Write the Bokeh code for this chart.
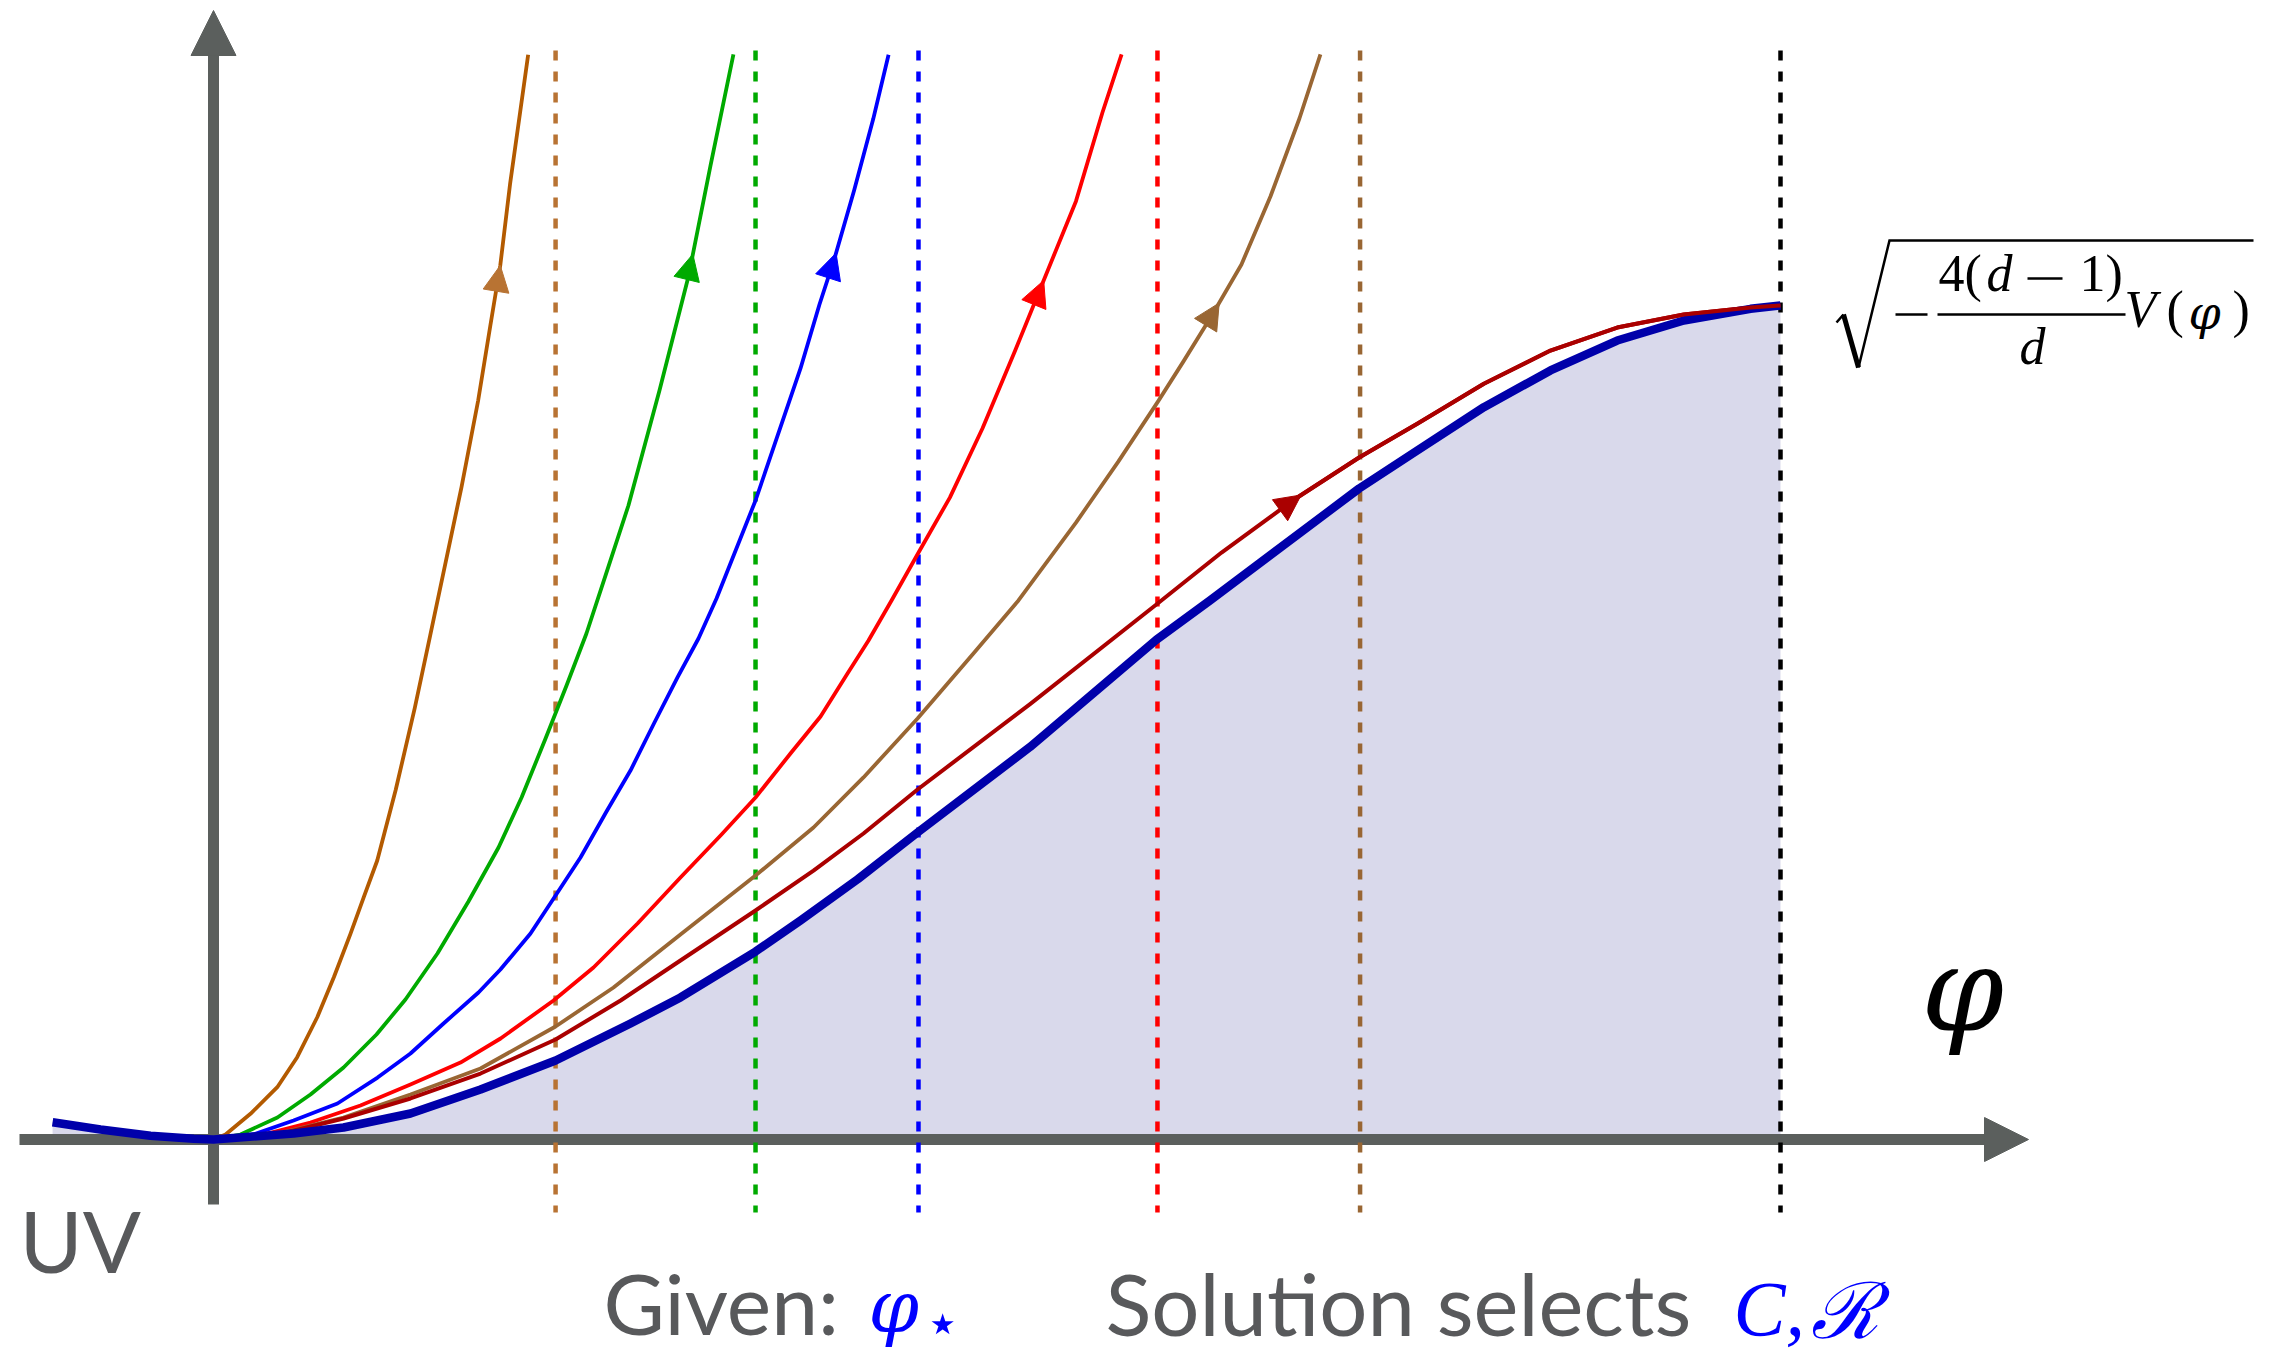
from bokeh.plotting import figure
from bokeh.models import Range1d, Arrow, NormalHead, Label
from bokeh.embed import file_html
from bokeh.resources import INLINE

# ---------------------------------------------------------------------------
# Data: field value phi is normalised so that the maximum of the potential
# bound sqrt(-4(d-1)/d V(phi)) sits at phi = 1 with height 1.
# ---------------------------------------------------------------------------

# potential bound (thick navy curve, shaded below)
pot_phi = [-0.1027, -0.0721, -0.0402, -0.0126, 0.0, 0.0511, 0.0830, 0.1257,
           0.1704, 0.2183, 0.2661, 0.2980, 0.3459, 0.3746, 0.4112, 0.4493,
           0.5211, 0.6017, 0.6359, 0.7311, 0.7682, 0.8107, 0.8532, 0.8958,
           0.9383, 0.9809, 1.0]
pot_val = [0.0207, 0.0120, 0.0045, 0.0008, 0.0, 0.0072, 0.0144, 0.0312,
           0.0600, 0.0947, 0.1391, 0.1703, 0.2254, 0.2626, 0.3122, 0.3681,
           0.4707, 0.5992, 0.6463, 0.7806, 0.8261, 0.8781, 0.9221, 0.9580,
           0.9820, 0.9960, 1.0]

# flow solutions leaving the UV fixed point
copper_phi = [0.0, 0.0077, 0.0236, 0.0407, 0.0534, 0.0662, 0.0768, 0.0874, 0.0959,
              0.1045, 0.1163, 0.1285, 0.1382, 0.1583, 0.1689, 0.1766, 0.1830,
              0.1893, 0.1957, 0.2008]
copper_val = [0.0, 0.0060, 0.0308, 0.0627, 0.0987, 0.1466, 0.1946, 0.2466, 0.2905,
              0.3345, 0.4193, 0.5179, 0.6035, 0.7825, 0.8861, 0.9752, 1.0480,
              1.1464, 1.2321, 1.3006]

green_phi = [0.0, 0.0172, 0.0408, 0.0619, 0.0830, 0.1040, 0.1225, 0.1429, 0.1627,
             0.1819, 0.1966, 0.2119, 0.2253, 0.2380, 0.2502, 0.2648, 0.2846,
             0.3031, 0.3172, 0.3318]
green_val = [0.0, 0.0060, 0.0264, 0.0540, 0.0863, 0.1259, 0.1679, 0.2230, 0.2854,
             0.3501, 0.4101, 0.4808, 0.5444, 0.6067, 0.6763, 0.7602, 0.8981,
             1.0348, 1.1679, 1.3010]

blue_phi = [0.0, 0.0255, 0.0511, 0.0791, 0.1047, 0.1257, 0.1468, 0.1691, 0.1831,
            0.2023, 0.2183, 0.2342, 0.2508, 0.2661, 0.2814, 0.2961, 0.3095, 0.3210,
            0.3459, 0.3746, 0.3867, 0.3963, 0.4088, 0.4210, 0.4308]
blue_val = [0.0, 0.0060, 0.0228, 0.0432, 0.0743, 0.1031, 0.1391, 0.1763, 0.2038,
            0.2470, 0.2926, 0.3381, 0.3933, 0.4424, 0.5000, 0.5540, 0.6007, 0.6487,
            0.7662, 0.9245, 1.0012, 1.0564, 1.1379, 1.2235, 1.3006]

red_phi = [0.0, 0.0319, 0.0619, 0.0938, 0.1257, 0.1576, 0.1832, 0.2170, 0.2425,
           0.2706, 0.2980, 0.3236, 0.3459, 0.3682, 0.3874, 0.4046, 0.4180, 0.4327,
           0.4503, 0.4699, 0.4907, 0.5114, 0.5290, 0.5504, 0.5673, 0.5795]
red_val = [0.0, 0.0060, 0.0204, 0.0408, 0.0659, 0.0923, 0.1211, 0.1667, 0.2062,
           0.2590, 0.3141, 0.3645, 0.4101, 0.4628, 0.5072, 0.5588, 0.5983, 0.6463,
           0.7050, 0.7697, 0.8525, 0.9452, 1.0264, 1.1251, 1.2314, 1.3010]

tan_phi = [0.0, 0.0383, 0.0830, 0.1257, 0.1704, 0.2183, 0.2553, 0.2980, 0.3459,
           0.3829, 0.4148, 0.4493, 0.4844, 0.5137, 0.5504, 0.5773, 0.6029, 0.6188,
           0.6371, 0.6560, 0.6745, 0.6930, 0.7064]
tan_val = [0.0, 0.0060, 0.0264, 0.0540, 0.0851, 0.1355, 0.1823, 0.2458, 0.3165,
           0.3741, 0.4341, 0.5048, 0.5815, 0.6463, 0.7397, 0.8125, 0.8853, 0.9324,
           0.9880, 1.0492, 1.1307, 1.2242, 1.3010]

# the regular solution that reaches the maximum of the potential
crimson_phi = [0.0, 0.0383, 0.0830, 0.1257, 0.1704, 0.2183, 0.2598, 0.2980, 0.3459,
               0.3829, 0.4148, 0.4493, 0.5211, 0.6017, 0.6433, 0.6897, 0.7311, 0.7682,
               0.8107, 0.8532, 0.8958, 0.9383, 0.9809, 1.0]
crimson_val = [0.0, 0.0048, 0.0252, 0.0492, 0.0791, 0.1199, 0.1667, 0.2146, 0.2746,
               0.3225, 0.3669, 0.4197, 0.5221, 0.6415, 0.7038, 0.7674, 0.8177, 0.8582,
               0.9061, 0.9460, 0.9736, 0.9892, 0.9976, 1.0]

# phi_* of each flow (dashed markers) and the maximum of the potential
phi_star = [0.2183, 0.3459, 0.4499, 0.6024, 0.7317, 1.0]

# arrowheads marking the flow direction on each solution
arrow_tail_phi = [0.1766, 0.2846, 0.3867, 0.5114, 0.6188, 0.6433]
arrow_tail_val = [0.9752, 0.8981, 1.0012, 0.9452, 0.9324, 0.7038]
arrow_tip_phi = [0.1830, 0.3059, 0.3973, 0.5298, 0.6418, 0.6941]
arrow_tip_val = [1.0480, 1.0616, 1.0629, 1.0300, 1.0030, 0.7728]

# ---------------------------------------------------------------------------
# Styling
# ---------------------------------------------------------------------------
W, H = 2279, 1359
ORIGIN_PX = (213.0, 1139.0)      # page position of (phi, value) = (0, 0)
UNIT_PX = (1567.0, 834.0)        # page pixels per unit along phi and value

AXIS_GREY = "#5b5f5d"
TEXT_GREY = "#58595b"
MATH_BLUE = "#0000ff"
SHADE = "#d9d9eb"
NAVY = "#0000aa"

flow_styles = [
    (copper_phi, copper_val, "#b35a00"),
    (green_phi, green_val, "#00aa00"),
    (blue_phi, blue_val, "#0000ff"),
    (red_phi, red_val, "#ff0000"),
    (tan_phi, tan_val, "#996633"),
]
marker_colors = ["#b87333", "#00aa00", "#0000ff", "#ff0000", "#996633", "#000000"]
head_colors = ["#b87333", "#00aa00", "#0000ff", "#ff0000", "#996633", "#aa0000"]

# vertical correction (in em) between the requested and rendered text baseline
BASELINE_FIX = {"Lato": 0.40, "DejaVu Serif": 0.33, "DejaVu Sans": 0.33,
                "Liberation Serif": 0.36}


def dx(px):
    return (px - ORIGIN_PX[0]) / UNIT_PX[0]


def dy(py):
    return (ORIGIN_PX[1] - py) / UNIT_PX[1]


p = figure(width=W, height=H, output_backend="svg", toolbar_location=None,
           x_axis_type=None, y_axis_type=None,
           x_range=Range1d(dx(0), dx(W)), y_range=Range1d(dy(H), dy(0)),
           min_border=0, min_border_left=0, min_border_right=0,
           min_border_top=0, min_border_bottom=0)
p.outline_line_color = None
p.background_fill_color = "white"
p.border_fill_color = "white"

# shaded region under the potential bound
p.varea(x=pot_phi, y1=[0.0] * len(pot_phi), y2=pot_val, fill_color=SHADE,
        level="image")

# axes drawn as arrows
p.add_layout(Arrow(end=NormalHead(size=44, fill_color=AXIS_GREY, line_color=AXIS_GREY),
                   x_start=dx(19), y_start=0.0, x_end=dx(2028), y_end=0.0,
                   line_color=AXIS_GREY, line_width=11, level="underlay"))
p.add_layout(Arrow(end=NormalHead(size=45, fill_color=AXIS_GREY, line_color=AXIS_GREY),
                   x_start=0.0, y_start=dy(1204), x_end=0.0, y_end=dy(10),
                   line_color=AXIS_GREY, line_width=11, level="underlay"))

# dashed phi_* markers
top, bottom = dy(50), dy(1212)
p.segment(x0=phi_star, y0=[top] * len(phi_star), x1=phi_star, y1=[bottom] * len(phi_star),
          line_color=marker_colors, line_width=4.5, line_dash="10 11")

# flows
for xs, ys, col in flow_styles:
    p.line(xs, ys, line_color=col, line_width=3.8, line_join="round")
p.line(crimson_phi, crimson_val, line_color="#aa0000", line_width=4, line_join="round")
p.line(pot_phi, pot_val, line_color=NAVY, line_width=8.5, line_join="round")
p.line(crimson_phi[-9:], crimson_val[-9:], line_color="#aa0000", line_width=4,
       line_join="round")

for i in range(len(arrow_tip_phi)):
    c = head_colors[i]
    p.add_layout(Arrow(end=NormalHead(size=26, fill_color=c, line_color=c, line_width=1),
                       x_start=arrow_tail_phi[i], y_start=arrow_tail_val[i],
                       x_end=arrow_tip_phi[i], y_end=arrow_tip_val[i],
                       line_alpha=0.0))


def label(text, x_px, base_px, size, font, color, style="normal", align="left"):
    base = base_px - BASELINE_FIX.get(font, 0.35) * size
    p.add_layout(Label(x=dx(x_px), y=dy(base), text=text, text_font=font,
                       text_font_size=f"{size}px", text_color=color,
                       text_font_style=style, text_align=align,
                       text_baseline="alphabetic"))


# axis and caption texts
label("UV", 19, 1273, 86, "Lato", TEXT_GREY)
label("φ", 1962, 1027, 118, "DejaVu Serif", "black", style="italic", align="center")
label("Given:", 603, 1336, 84, "Lato", TEXT_GREY)
label("φ", 868, 1330, 72, "DejaVu Serif", MATH_BLUE, style="italic")
label("⋆", 924, 1342, 58, "DejaVu Sans", MATH_BLUE)
label("Solution selects", 1105, 1336, 85, "Lato", TEXT_GREY)
label("C,", 1733, 1336, 78, "Liberation Serif", MATH_BLUE, style="italic")
label("ℛ", 1810, 1336, 78, "DejaVu Serif", MATH_BLUE, style="italic")

# formula at the maximum of the potential
FS = 52
SERIF = "Liberation Serif"
label("4(", 1938, 292, FS, SERIF, "black")
label("d", 1986, 292, FS, SERIF, "black", style="italic")
label("1)", 2079, 292, FS, SERIF, "black")
label("d", 2032, 365, FS, SERIF, "black", style="italic", align="center")
label("V", 2124, 328, FS, SERIF, "black", style="italic")
label("(", 2166, 328, FS, SERIF, "black")
label("φ", 2188, 328, 46, "DejaVu Serif", "black", style="italic")
label(")", 2232, 328, FS, SERIF, "black")

# minus signs, fraction bar and radical sign
RULE = dict(line_color="black", line_width=2.5)
p.line([dx(1895), dx(1927)], [dy(314), dy(314)], **RULE)
p.line([dx(2027), dx(2062)], [dy(278), dy(278)], **RULE)
p.line([dx(1937), dx(2125)], [dy(314), dy(314)], **RULE)
p.line([dx(1836), dx(1843)], [dy(322), dy(314)], **RULE)
p.line([dx(1843), dx(1858)], [dy(314), dy(367)], line_color="black", line_width=5)
p.line([dx(1858), dx(1889), dx(2253)], [dy(367), dy(240), dy(240)],
       line_color="black", line_width=2.5, line_join="miter")

open("out.html", "w").write(file_html(p, INLINE))
